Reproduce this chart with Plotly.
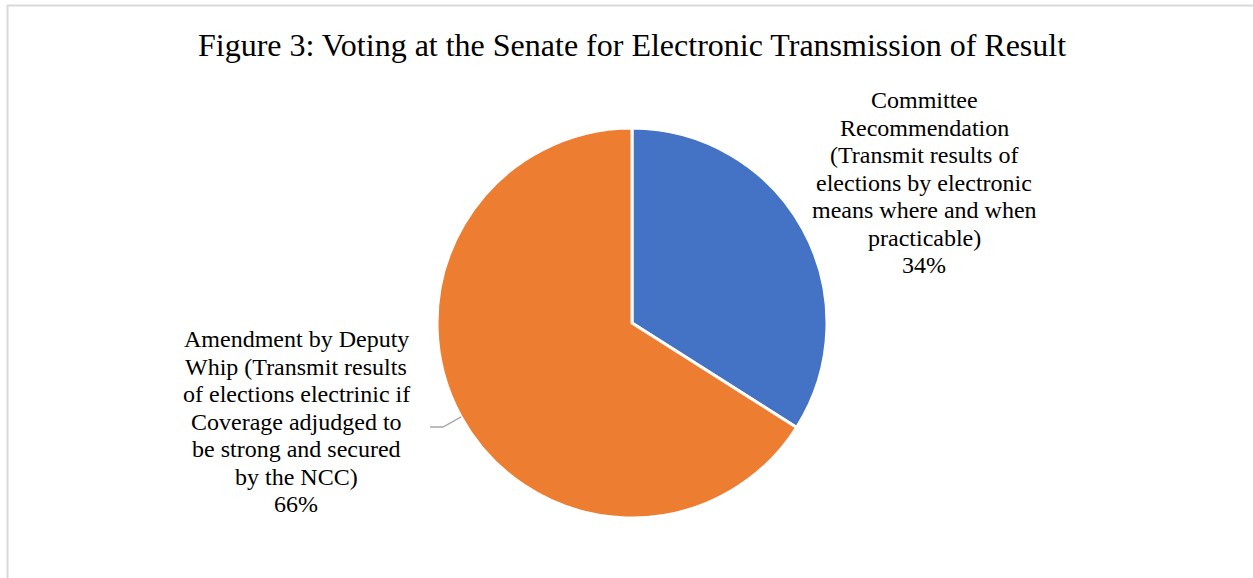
import math
import plotly.graph_objects as go

# ---- data ----
labels = [
    "Committee Recommendation (Transmit results of elections by electronic means where and when practicable)",
    "Amendment by Deputy Whip (Transmit results of elections electrinic if Coverage adjudged to be strong and secured by the NCC)",
]
values = [34, 66]
colors = ["#4472C4", "#ED7D31"]
label_lines = [
    ["Committee", "Recommendation", "(Transmit results of", "elections by electronic",
     "means where and when", "practicable)"],
    ["Amendment by Deputy", "Whip (Transmit results", "of elections electrinic if",
     "Coverage adjudged to", "be strong and secured", "by the NCC)"],
]
title = "Figure 3: Voting at the Senate for Electronic Transmission of Result"

W, H = 1253, 578
cx, cy, R = 632, 323, 195

def px(x):
    return x / W

def py(y):
    return 1 - y / H

fig = go.Figure()
fig.add_trace(go.Pie(
    labels=labels, values=values, sort=False, direction="clockwise", rotation=0,
    marker=dict(colors=colors, line=dict(color="white", width=3)),
    textinfo="none", hoverinfo="skip", showlegend=False,
    domain=dict(x=[px(cx - R), px(cx + R)], y=[py(cy + R), py(cy - R)]),
))

total = sum(values)
pcts = [f"{round(v / total * 100)}%" for v in values]

# label placement (centre x, first baseline y)
label_pos = [(924, 108), (296, 347)]
spacing = 27.5
annotations = []
for i, lines in enumerate(label_lines):
    lx, ly = label_pos[i]
    for j, t in enumerate(lines + [pcts[i]]):
        base = ly + j * spacing
        annotations.append(dict(
            x=px(lx), y=py(base - 8), xref="paper", yref="paper",
            text=t, showarrow=False, xanchor="center", yanchor="middle",
            font=dict(family="Liberation Serif, Times New Roman, serif", size=24, color="black"),
        ))

annotations.append(dict(
    x=px(632), y=py(45), xref="paper", yref="paper", text=title, showarrow=False,
    xanchor="center", yanchor="middle",
    font=dict(family="Liberation Serif, Times New Roman, serif", size=32, color="black"),
))

# leader line for the orange slice, starting at its mid-angle on the rim
cum = values[0] + values[1] / 2
ang = cum / total * 2 * math.pi
sx = cx + R * math.sin(ang)
sy = cy - R * math.cos(ang)
shapes = [
    dict(type="path", xref="paper", yref="paper",
         path=f"M {px(sx)} {py(sy)} L {px(443)} {py(427)} L {px(430)} {py(427)}",
         line=dict(color="#A6A6A6", width=1.3)),
    # chart-area border (top and left visible)
    dict(type="line", xref="paper", yref="paper", x0=px(7), x1=1, y0=py(5.5), y1=py(5.5),
         line=dict(color="#D9D9D9", width=2)),
    dict(type="line", xref="paper", yref="paper", x0=px(7.5), x1=px(7.5), y0=py(5), y1=0,
         line=dict(color="#D9D9D9", width=2)),
]

fig.update_layout(
    width=W, height=H, margin=dict(l=0, r=0, t=0, b=0),
    paper_bgcolor="white", plot_bgcolor="white",
    annotations=annotations, shapes=shapes,
)
fig.write_html("out.html")
